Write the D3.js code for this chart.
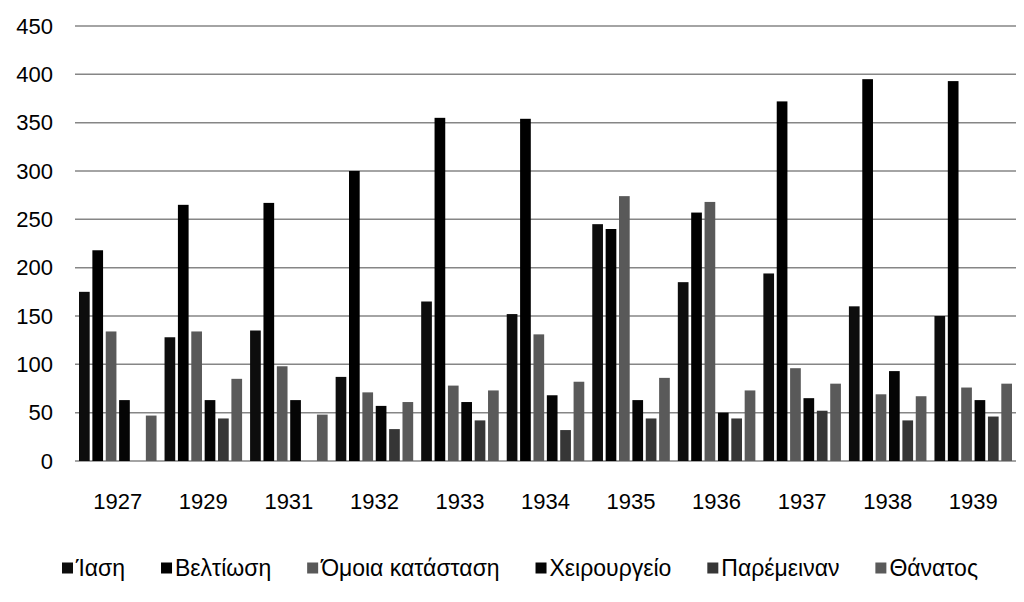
<!DOCTYPE html>
<html>
<head>
<meta charset="utf-8">
<script src="https://cdn.jsdelivr.net/npm/d3@7"></script>
<style>
  html, body { margin: 0; padding: 0; background: #fff; }
  svg { display: block; }
  text { font-family: "Liberation Sans", Arial, sans-serif; fill: #000; }
</style>
</head>
<body>
<svg id="chart" width="1024" height="602"></svg>
<script>
// ---- Data ----
const years = ["1927", "1929", "1931", "1932", "1933", "1934", "1935", "1936", "1937", "1938", "1939"];
const seriesNames = ["Ίαση", "Βελτίωση", "Όμοια κατάσταση", "Χειρουργείο", "Παρέμειναν", "Θάνατος"];
const iasi        = [175, 128, 135,  87, 165, 152, 245, 185, 194, 160, 150];
const veltiosi    = [218, 265, 267, 300, 355, 354, 240, 257, 372, 395, 393];
const omoia       = [134, 134,  98,  71,  78, 131, 274, 268,  96,  69,  76];
const xeirourgeio = [ 63,  63,  63,  57,  61,  68,  63,  50,  65,  93,  63];
const paremeinan  = [  0,  44,   0,  33,  42,  32,  44,  44,  52,  42,  46];
const thanatos    = [ 47,  85,  48,  61,  73,  82,  86,  73,  80,  67,  80];
const yTicks = [0, 50, 100, 150, 200, 250, 300, 350, 400, 450];
const colors = ["#0d0d0d", "#000000", "#595959", "#050505", "#363636", "#5a5a5a"];

const seriesValues = [iasi, veltiosi, omoia, xeirourgeio, paremeinan, thanatos];

// ---- Layout ----
const svg = d3.select("#chart");
const plotLeft = 75, plotRight = 1016, plotTop = 26, plotBottom = 461;

const x0 = d3.scaleBand().domain(years).range([plotLeft, plotRight]).paddingInner(0).paddingOuter(0);
const x1 = d3.scaleBand().domain(d3.range(seriesNames.length))
  .range([4, x0.bandwidth() - 4]).paddingInner(0.2).paddingOuter(0);
const y = d3.scaleLinear().domain([0, 450]).range([plotBottom, plotTop]);

// gridlines
svg.append("g")
  .selectAll("line")
  .data(yTicks)
  .join("line")
  .attr("x1", plotLeft).attr("x2", plotRight)
  .attr("y1", d => y(d)).attr("y2", d => y(d))
  .attr("stroke", "#868686")
  .attr("stroke-width", 1.5);

// y axis labels
const yAxis = d3.axisLeft(y).tickValues(yTicks).tickSize(0).tickPadding(0);
const yg = svg.append("g").attr("transform", `translate(${53},0)`).call(yAxis);
yg.select(".domain").remove();
yg.selectAll("text")
  .style("font-family", "'Liberation Sans', Arial, sans-serif")
  .style("font-size", "22px")
  .attr("fill", "#000");

// bars
const groups = svg.append("g")
  .selectAll("g")
  .data(years)
  .join("g")
  .attr("transform", d => `translate(${x0(d)},0)`);

groups.selectAll("rect")
  .data((yr, i) => seriesValues.map((vals, s) => ({ s, v: vals[i] })))
  .join("rect")
  .attr("x", d => x1(d.s))
  .attr("width", x1.bandwidth())
  .attr("y", d => y(d.v))
  .attr("height", d => y(0) - y(d.v))
  .attr("fill", d => colors[d.s]);

// x axis labels
const xAxis = d3.axisBottom(x0).tickSize(0).tickPadding(0);
const xg = svg.append("g").attr("transform", `translate(0,${493})`).call(xAxis);
xg.select(".domain").remove();
xg.selectAll("text")
  .attr("dy", "0.71em")
  .attr("y", 0)
  .style("font-family", "'Liberation Sans', Arial, sans-serif")
  .style("font-size", "22px")
  .attr("fill", "#000");

// legend
const legend = svg.append("g");
const legendY = 568;
const legendLeft = 62, legendRight = 978;
const items = legend.selectAll("g")
  .data(seriesNames)
  .join("g");
items.append("rect")
  .attr("width", 11).attr("height", 11)
  .attr("y", legendY - 5.5)
  .attr("fill", (d, i) => colors[i]);
items.append("text")
  .attr("x", 14)
  .attr("y", legendY)
  .attr("dy", "0.35em")
  .style("font-size", "23px")
  .text(d => d);
const widths = [];
items.each(function () {
  widths.push(14 + this.querySelector("text").getComputedTextLength());
});
const gap = (legendRight - legendLeft - d3.sum(widths)) / (widths.length - 1);
let cx = legendLeft;
items.each(function (d, i) {
  d3.select(this).attr("transform", `translate(${cx},0)`);
  cx += widths[i] + gap;
});
</script>
</body>
</html>
